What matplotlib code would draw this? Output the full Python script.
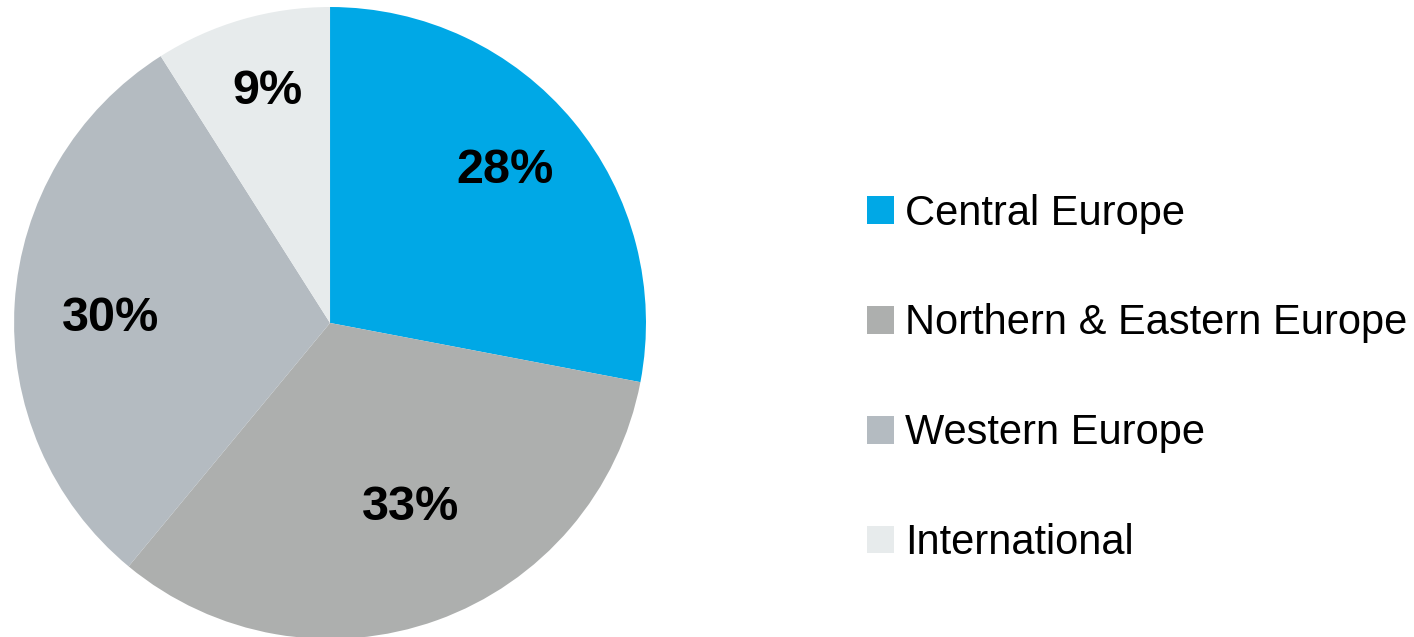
import numpy as np
import matplotlib
matplotlib.use("Agg")
import matplotlib.pyplot as plt

categories = ["Central Europe", "Northern & Eastern Europe", "Western Europe", "International"]
shares = [28, 33, 30, 9]
colors = ["#00A8E6", "#ADAFAE", "#B4BBC1", "#E7EBEC"]

# label placement (radius fraction, angular nudge in degrees)
label_r = [0.734, 0.638, 0.695, 0.760]
label_nudge = [1.6, 3.8, 2.5, -1.1]

plt.rcParams['font.family'] = ['Liberation Sans', 'DejaVu Sans']

fig = plt.figure(figsize=(14.14, 6.37), dpi=100)
ax = fig.add_axes([0.0099, -0.003, 0.447, 0.992])
wedges, texts, autotexts = ax.pie(
    shares, colors=colors, startangle=90, counterclock=False,
    autopct=lambda p: f"{p:.0f}%", pctdistance=0.71,
    wedgeprops=dict(linewidth=0),
    textprops=dict(fontsize=35, fontweight='bold', color='black'))
for w, t, r, d in zip(wedges, autotexts, label_r, label_nudge):
    mid = np.deg2rad((w.theta1 + w.theta2) / 2 + d)
    t.set_position((r * np.cos(mid), r * np.sin(mid)))
ax.set_xlim(-1, 1)
ax.set_ylim(-1, 1)
ax.set_aspect('equal')

leg = fig.legend(wedges, categories, loc='center left',
                 bbox_to_anchor=(0.6132, 0.406), frameon=False,
                 fontsize=30, handlelength=0.65, handleheight=0.65,
                 handletextpad=0.26, labelspacing=1.675, borderpad=0,
                 borderaxespad=0)

fig.savefig("out.png", dpi=100)
